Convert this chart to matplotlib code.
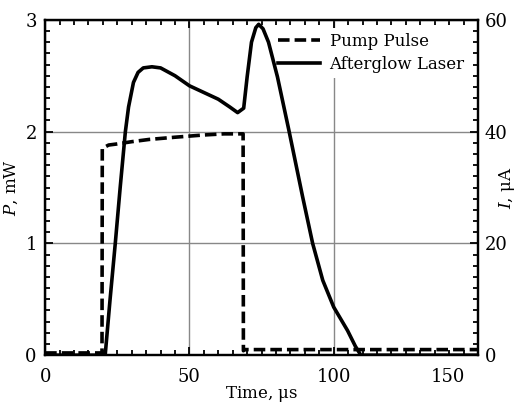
import numpy as np
import matplotlib.pyplot as plt
from matplotlib.ticker import MultipleLocator

plt.rcParams['font.family'] = ['DejaVu Serif']
plt.rcParams['mathtext.fontset'] = 'dejavuserif'

############################ Data ############################
# Pump pulse, power P in mW
pump_t = [0, 19.7, 19.8, 22, 25, 30, 36, 45, 55, 62, 68.6, 68.7, 69.2, 100, 150]
pump_P = [0.02, 0.02, 1.85, 1.88, 1.89, 1.91, 1.93, 1.95, 1.97, 1.98, 1.98, 0.04, 0.05, 0.05, 0.05]

# Afterglow laser, current I in uA (read as P-scale then converted, 1 mW <-> 20 uA)
glow_t = [0, 20.8, 22.5, 24.3, 26, 27.8, 28.9, 30.6, 32.2, 34, 37, 40, 45, 50, 55, 60, 64,
          66.7, 68.8, 70, 71.5, 73, 74, 75.5, 77.4, 80.5, 84.4, 86.8, 89.2, 92.7, 96.2,
          100, 104.8, 107.5, 109.4, 150]
glow_P = [0, 0, 0.5, 1.0, 1.5, 2.0, 2.22, 2.44, 2.53, 2.57, 2.58, 2.57, 2.50, 2.41, 2.35,
          2.29, 2.22, 2.17, 2.21, 2.49, 2.8, 2.93, 2.96, 2.92, 2.8, 2.49, 2.02, 1.72, 1.42,
          1.0, 0.67, 0.43, 0.22, 0.08, 0.0, 0.0]
glow_I = [20 * p for p in glow_P]

x_ticks = [0, 50, 100, 150]

################################ Plot ################################
fig = plt.figure(figsize=(5.19, 4.05), dpi=100)
ax = fig.add_axes([0.087, 0.123, 0.834, 0.828])
ax2 = ax.twinx()

ln1, = ax.plot(pump_t, pump_P, color='black', lw=2.6, dashes=(3.2, 1.4), label='Pump Pulse')
ln2, = ax2.plot(glow_t, glow_I, color='black', lw=2.6, label='Afterglow Laser')

ax.set_xlim(0, 150)
ax.set_ylim(0, 3)
ax2.set_ylim(0, 60)

# last label ("150") is drawn separately, shifted left of its tick
ax.set_xticks(x_ticks, [str(v) for v in x_ticks[:-1]] + [''])
ax.annotate(str(x_ticks[-1]), xy=(x_ticks[-1], 0), xycoords=('data', 'axes fraction'),
            xytext=(-9, -9), textcoords='offset points', ha='right', va='top', fontsize=13)
ax.xaxis.set_minor_locator(MultipleLocator(5))
ax.yaxis.set_major_locator(MultipleLocator(1))
ax.yaxis.set_minor_locator(MultipleLocator(0.1))
ax2.yaxis.set_major_locator(MultipleLocator(20))
ax2.yaxis.set_minor_locator(MultipleLocator(2))

ax.tick_params(which='both', direction='in', top=True, labelsize=13, width=1.3)
ax.tick_params(axis='x', pad=9)
ax.tick_params(axis='y', pad=6, right=False)
ax.tick_params(which='major', length=6)
ax.tick_params(which='minor', length=3.5)
ax2.tick_params(which='both', direction='in', labelsize=13, width=1.3, pad=5)
ax2.tick_params(which='major', length=6)
ax2.tick_params(which='minor', length=3.5)

ax.grid(True, which='major', color='#888888', lw=1.0)

for a in (ax, ax2):
    for s in a.spines.values():
        s.set_linewidth(1.6)

ax.set_xlabel(r"Time, $\mathrm{\mu}$s", fontsize=12, labelpad=-1)
ax.set_ylabel(r"$P$, mW", fontsize=12, labelpad=4)
ax2.set_ylabel(r"$I$, $\mathrm{\mu}$A", fontsize=12, labelpad=-8)

# legend on the lower axes so the afterglow line stays on top of its white box
leg = ax.legend([ln1, ln2], ['Pump Pulse', 'Afterglow Laser'], loc='upper right',
                bbox_to_anchor=(1.0, 1.0), fontsize=12, frameon=True, fancybox=False,
                edgecolor='none', facecolor='white', framealpha=1.0,
                handlelength=2.5, handletextpad=0.6, labelspacing=0.35, borderpad=0.3)

plt.savefig("out.png", dpi=100)
